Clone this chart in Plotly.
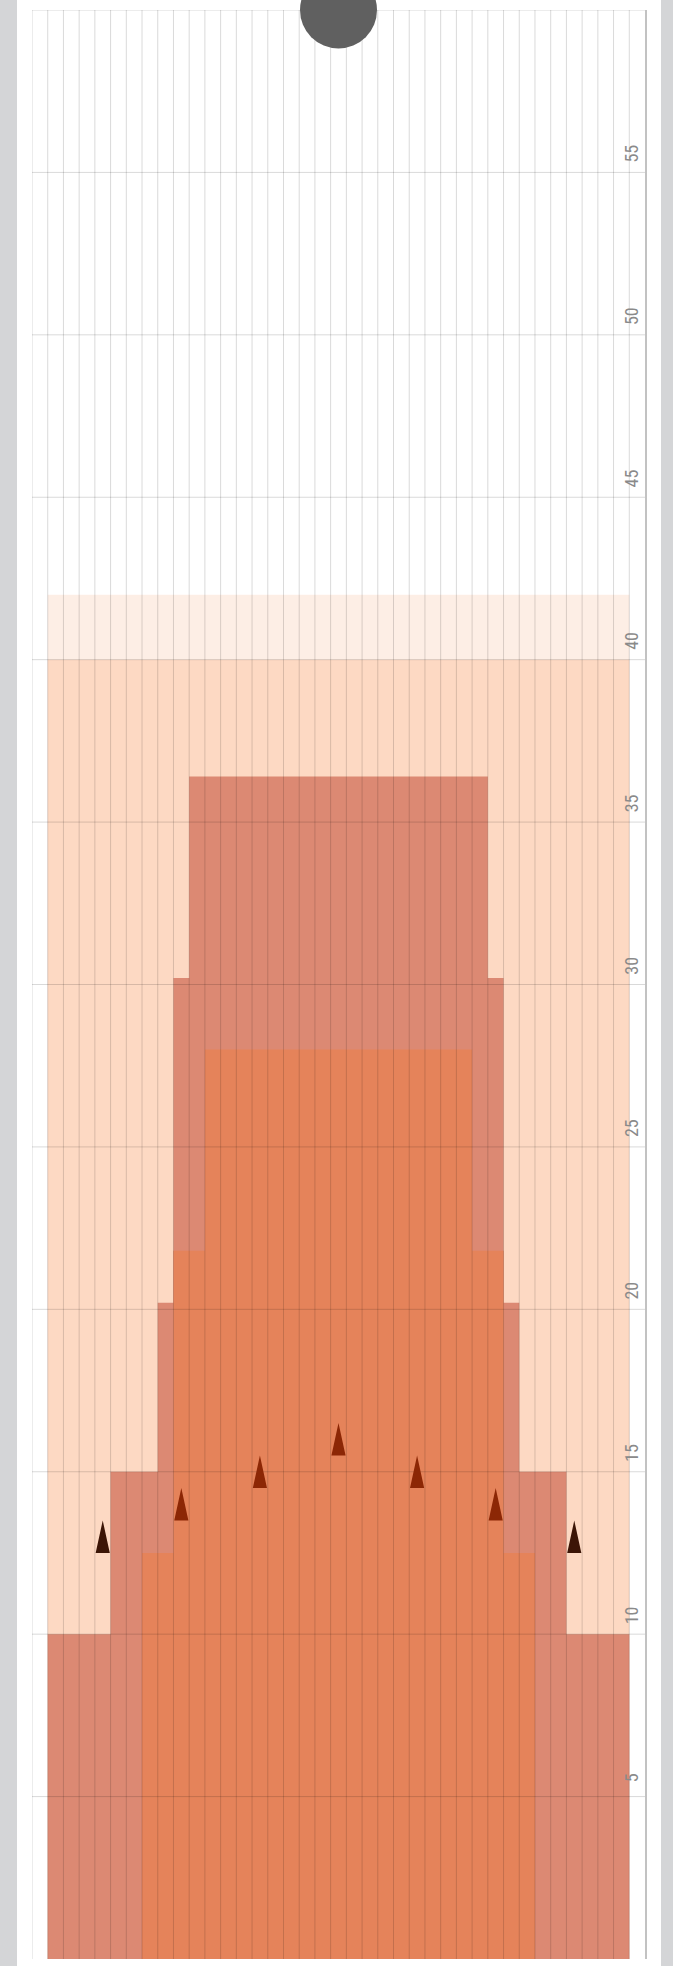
import plotly.graph_objects as go

# ---- data (x in boards from the left edge, y in feet from the foul line) ----
lane_boards = 39
lane_length = 60

# full-width conditioning (light buffer and main body)
buffer_edges = [1, 38]
buffer_len = [42.0]
body_edges = [1, 38]
body_len = [40.0]

# outer (forward) oil profile: board edges where the length changes
fwd_edges = [1, 5, 8, 9, 10, 29, 30, 31, 34, 38]
fwd_len = [10.0, 15.0, 20.2, 30.2, 36.4, 30.2, 20.2, 15.0, 10.0]

# inner (heavy) oil profile
heavy_edges = [7, 9, 11, 28, 30, 32]
heavy_len = [12.5, 21.8, 28.0, 21.8, 12.5]

# targeting arrows: board number and distance of the arrow base
arrow_boards = [5, 10, 15, 20, 25, 30, 35]
arrow_base = [12.5, 13.5, 14.5, 15.5, 14.5, 13.5, 12.5]

# head pin marker (board 20 centre, end of lane)
pin_board = 20

y_ticks = [5, 10, 15, 20, 25, 30, 35, 40, 45, 50, 55]

# ---- colours ----
C_BUFFER = "#fdeee5"
C_BODY = "#fdd9c3"
C_FWD = "#dc8973"
C_HEAVY = "#e5835a"
C_ARROW_IN = "#8c2705"
C_ARROW_OUT = "#3c1506"
C_GRID = "rgba(0,0,0,0.15)"
C_PIN = "#606060"
C_PAGE = "#d4d5d7"


def step_xy(edges, lens):
    return list(edges), list(lens) + [lens[-1]]


def profile_at(edges, lens, x):
    for i in range(len(lens)):
        if edges[i] <= x < edges[i + 1]:
            return lens[i]
    return 0.0


fig = go.Figure()

for edges, lens, col in [
    (buffer_edges, buffer_len, C_BUFFER),
    (body_edges, body_len, C_BODY),
    (fwd_edges, fwd_len, C_FWD),
    (heavy_edges, heavy_len, C_HEAVY),
]:
    xs, ys = step_xy(edges, lens)
    fig.add_trace(go.Scatter(x=xs, y=ys, mode="none", fill="tozeroy",
                             fillcolor=col, line_shape="hv",
                             hoverinfo="skip"))

# grid lines (drawn above the oil so they show through, like the original)
gx, gy = [], []
for b in range(0, lane_boards):
    gx += [b, b, None]
    gy += [0, lane_length, None]
for d in range(5, lane_length + 1, 5):
    gx += [0, lane_boards, None]
    gy += [d, d, None]
fig.add_trace(go.Scatter(x=gx, y=gy, mode="lines",
                         line=dict(color=C_GRID, width=1),
                         hoverinfo="skip", connectgaps=False))

# arrows
half_w = 0.45
height = 1.0
ax_in, ay_in, ax_out, ay_out = [], [], [], []
for b, d in zip(arrow_boards, arrow_base):
    xc = b - 0.5
    pts_x = [xc - half_w, xc, xc + half_w, xc - half_w, None]
    pts_y = [d, d + height, d, d, None]
    inside = d < profile_at(heavy_edges, heavy_len, xc)
    if inside:
        ax_in += pts_x
        ay_in += pts_y
    else:
        ax_out += pts_x
        ay_out += pts_y
for xs, ys, col in [(ax_in, ay_in, C_ARROW_IN), (ax_out, ay_out, C_ARROW_OUT)]:
    fig.add_trace(go.Scatter(x=xs, y=ys, mode="none", fill="toself",
                             fillcolor=col, hoverinfo="skip"))

# head pin
fig.add_trace(go.Scatter(x=[pin_board - 0.5], y=[lane_length], mode="markers",
                         marker=dict(size=77, color=C_PIN, line=dict(width=0)),
                         cliponaxis=False, hoverinfo="skip"))

# page frame: grey sides, white card
W, H = 673, 1966
ml, mr, mt, mb = 32, 28, 10, 7
pw = W - ml - mr
fig.add_shape(type="rect", xref="paper", yref="paper",
              x0=(17 - ml) / pw, x1=(661 - ml) / pw, y0=-1, y1=2,
              fillcolor="white", line=dict(width=0), layer="below")

fig.update_layout(
    width=W, height=H,
    margin=dict(l=ml, r=mr, t=mt, b=mb, autoexpand=False),
    paper_bgcolor=C_PAGE,
    plot_bgcolor="white",
    showlegend=False,
    hovermode=False,
    xaxis=dict(range=[0, lane_boards], showgrid=False, zeroline=False,
               showticklabels=False, showline=False, ticks="",
               fixedrange=True),
    yaxis=dict(range=[0, lane_length], side="right", showgrid=False,
               zeroline=False, showline=True, linecolor="#c2c2c2",
               linewidth=2, ticks="", tickvals=y_ticks,
               ticktext=[str(v) for v in y_ticks],
               ticklabelposition="inside", tickangle=-90,
               ticklabelstandoff=4, ticklabelshift=-16,
               tickfont=dict(family="Roboto Condensed, DejaVu Sans Condensed, Roboto, sans-serif",
                             size=18, color="#8a8a8a"),
               fixedrange=True),
)

fig.write_html(
    "out.html",
    config={"displayModeBar": False, "staticPlot": True},
    post_script=(
        "document.body.style.margin='0';"
        "document.body.style.background='" + C_PAGE + "';"
    ),
)
